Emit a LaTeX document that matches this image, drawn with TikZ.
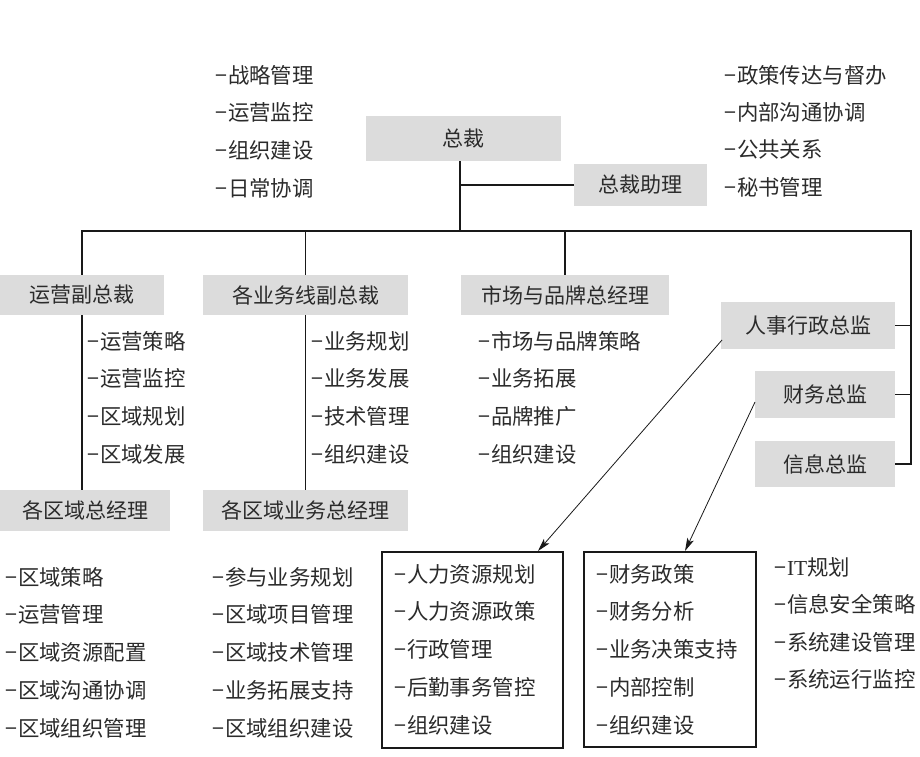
\documentclass[tikz,border=0pt]{standalone}
\usepackage{fontspec}
\setmainfont{Noto Sans CJK SC}
\newfontfamily\itfont{Liberation Serif}
\usetikzlibrary{arrows.meta}
\definecolor{boxgray}{HTML}{DCDCDC}
\definecolor{txt}{HTML}{2B2B2B}
\newcommand{\dsh}{−\hspace{1pt}}
\begin{document}
\begin{tikzpicture}[x=1pt,y=-1pt,
  orgbox/.style={fill=boxgray, text=txt, inner sep=0pt, font=\fontsize{21}{24}\selectfont},
  item/.style={anchor=west, text=txt, inner sep=0pt, font=\fontsize{21.4}{24}\selectfont},
  conn/.style={line width=1.1pt, draw=black!90},
  listbox/.style={draw=black!90, line width=2.2pt, inner sep=0pt},
  arr/.style={line width=0.8pt, draw=black!90, -{Stealth[length=13pt,width=7pt,inset=3pt]}}]
\useasboundingbox (0,0) rectangle (920,756);

% boxes
\node[orgbox, minimum width=195pt, minimum height=45pt] (zc) at (463.5,138.5) {总裁};
\node[orgbox, minimum width=133pt, minimum height=42pt] (zl) at (640.5,185) {总裁助理};
\node[orgbox, minimum width=164pt, minimum height=40pt] (yy) at (82,295) {运营副总裁};
\node[orgbox, minimum width=205pt, minimum height=40pt] (yw) at (305.5,295) {各业务线副总裁};
\node[orgbox, minimum width=208pt, minimum height=40pt] (sc) at (565,295) {市场与品牌总经理};
\node[orgbox, minimum width=174pt, minimum height=47pt] (rs) at (808,325.5) {人事行政总监};
\node[orgbox, minimum width=140pt, minimum height=47pt] (cw) at (825,394.5) {财务总监};
\node[orgbox, minimum width=140pt, minimum height=46pt] (xx) at (825,464) {信息总监};
\node[orgbox, minimum width=170pt, minimum height=41pt] (qy) at (85,510.5) {各区域总经理};
\node[orgbox, minimum width=205pt, minimum height=41pt] (qw) at (305.5,510.5) {各区域业务总经理};

\node[listbox, minimum width=181pt, minimum height=196pt] (hr) at (472.5,650) {};
\node[listbox, minimum width=172pt, minimum height=195pt] (fi) at (670,649.5) {};

% connectors
\coordinate (j0) at (460,231);
\coordinate (bl) at (82,231);
\coordinate (br) at (911,231);
\draw[conn] (zc.south -| j0) -- (j0);
\draw[conn] (zl.west) -- (zl.west -| j0);
\draw[conn] (yy.north) |- (br) -- (xx.east -| br) -- (xx.east);
\draw[conn] (yw.north) -- (yw.north |- bl);
\draw[conn] (sc.north) -- (sc.north |- bl);
\draw[conn] (rs.east) -- (rs.east -| br);
\draw[conn] (cw.east) -- (cw.east -| br);
\draw[conn] (yy.south) -- (yy.south |- qy.north);
\draw[conn] (yw.south) -- (qw.north);

\coordinate (a1s) at (722,340);
\coordinate (a1e) at (538,551);
\coordinate (a2s) at (755,402);
\coordinate (a2e) at (685,551);
\draw[arr] (a1s) -- (a1e);
\draw[arr] (a2s) -- (a2e);

% lists
\foreach \t [count=\i] in {战略管理,运营监控,组织建设,日常协调}
  \node[item] (tl\i) at (215,{75+37.7*(\i-1)}) {\dsh\t};
\foreach \t [count=\i] in {政策传达与督办,内部沟通协调,公共关系,秘书管理}
  \node[item] (tr\i) at (724,{75+37.3*(\i-1)}) {\dsh\t};
\foreach \t [count=\i] in {运营策略,运营监控,区域规划,区域发展}
  \node[item] (la\i) at (87,{341+37.7*(\i-1)}) {\dsh\t};
\foreach \t [count=\i] in {业务规划,业务发展,技术管理,组织建设}
  \node[item] (lb\i) at (311,{341+37.7*(\i-1)}) {\dsh\t};
\foreach \t [count=\i] in {市场与品牌策略,业务拓展,品牌推广,组织建设}
  \node[item] (lc\i) at (478,{341+37.7*(\i-1)}) {\dsh\t};
\foreach \t [count=\i] in {区域策略,运营管理,区域资源配置,区域沟通协调,区域组织管理}
  \node[item] (ld\i) at (5,{577+37.8*(\i-1)}) {\dsh\t};
\foreach \t [count=\i] in {参与业务规划,区域项目管理,区域技术管理,业务拓展支持,区域组织建设}
  \node[item] (le\i) at (212,{577+37.8*(\i-1)}) {\dsh\t};
\foreach \t [count=\i] in {人力资源规划,人力资源政策,行政管理,后勤事务管控,组织建设}
  \node[item] (lf\i) at (394,{574+37.8*(\i-1)}) {\dsh\t};
\foreach \t [count=\i] in {财务政策,财务分析,业务决策支持,内部控制,组织建设}
  \node[item] (lg\i) at (596,{574+37.8*(\i-1)}) {\dsh\t};
\node[item] (lh1) at (774,567) {\dsh{\itfont IT}规划};
\foreach \t [count=\i from 2] in {信息安全策略,系统建设管理,系统运行监控}
  \node[item] (lh\i) at (774,{567+37.5*(\i-1)}) {\dsh\t};
\end{tikzpicture}
\end{document}
